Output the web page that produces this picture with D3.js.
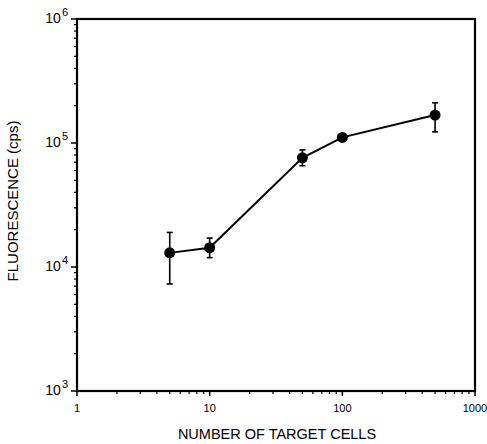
<!DOCTYPE html>
<html>
<head>
<meta charset="utf-8">
<script src="https://cdn.jsdelivr.net/npm/d3@7"></script>
<style>
  body { margin: 0; background: #fff; }
  svg { display: block; font-family: "Liberation Sans", Arial, sans-serif; }
</style>
</head>
<body>
<svg id="chart" width="487" height="444"></svg>
<script>
const cells = [5, 10, 50, 100, 500];
const fluor = [13000, 14300, 76000, 111000, 168000];
const errLow = [7300, 11900, 65600, 111000, 123000];
const errHigh = [19000, 17100, 88000, 111000, 211000];
const xTicks = [1, 10, 100, 1000];
const yExps = [3, 4, 5, 6];

const svg = d3.select("#chart");
const m = { left: 77, top: 19, right: 475, bottom: 391 };

const x = d3.scaleLog().domain([1, 1000]).range([m.left, m.right]);
const y = d3.scaleLog().domain([1000, 1000000]).range([m.bottom, m.top]);

// minor ticks
const minorX = [];
for (let k = 0; k < 3; k++) for (let i = 2; i <= 9; i++) minorX.push(i * Math.pow(10, k));
const minorY = [];
for (let k = 3; k < 6; k++) for (let i = 2; i <= 9; i++) minorY.push(i * Math.pow(10, k));

const axes = svg.append("g").attr("stroke", "#000");

axes.selectAll(".mx")
  .data(minorX)
  .join("line")
  .attr("x1", (d) => x(d)).attr("x2", (d) => x(d))
  .attr("y1", m.bottom).attr("y2", m.bottom + 3)
  .attr("stroke-width", 1.2);

axes.selectAll(".Mx")
  .data(xTicks)
  .join("line")
  .attr("x1", (d) => x(d)).attr("x2", (d) => x(d))
  .attr("y1", m.bottom).attr("y2", m.bottom + 5)
  .attr("stroke-width", 1.5);

axes.selectAll(".my")
  .data(minorY)
  .join("line")
  .attr("x1", m.left - 3).attr("x2", m.left)
  .attr("y1", (d) => y(d)).attr("y2", (d) => y(d))
  .attr("stroke-width", 1.2);

axes.selectAll(".My")
  .data(yExps)
  .join("line")
  .attr("x1", m.left - 6).attr("x2", m.left)
  .attr("y1", (d) => y(Math.pow(10, d))).attr("y2", (d) => y(Math.pow(10, d)))
  .attr("stroke-width", 1.5);

// frame
svg.append("rect")
  .attr("x", m.left).attr("y", m.top)
  .attr("width", m.right - m.left).attr("height", m.bottom - m.top)
  .attr("fill", "none").attr("stroke", "#000").attr("stroke-width", 2.2);

// tick labels
svg.append("g").selectAll("text")
  .data(xTicks)
  .join("text")
  .attr("x", (d) => x(d)).attr("y", m.bottom + 21)
  .attr("text-anchor", "middle")
  .attr("font-size", "11px")
  .text((d) => d);

const yl = svg.append("g").selectAll("text")
  .data(yExps)
  .join("text")
  .attr("x", 68).attr("y", (d) => y(Math.pow(10, d)) + 4)
  .attr("text-anchor", "end")
  .attr("font-size", "14px");
yl.append("tspan").text("10");
yl.append("tspan").attr("dy", -7).attr("font-size", "11px").attr("dx", 1).text((d) => d);

// titles
svg.append("text")
  .attr("x", 277).attr("y", 439)
  .attr("text-anchor", "middle")
  .attr("font-size", "14.5px")
  .text("NUMBER OF TARGET CELLS");

svg.append("text")
  .attr("transform", "translate(18,201) rotate(-90)")
  .attr("text-anchor", "middle")
  .attr("font-size", "15px")
  .text("FLUORESCENCE (cps)");

// data
const pts = cells.map((c, i) => ({ c, v: fluor[i], lo: errLow[i], hi: errHigh[i] }));

svg.append("path")
  .datum(pts)
  .attr("fill", "none")
  .attr("stroke", "#000")
  .attr("stroke-width", 2)
  .attr("d", d3.line().x((d) => x(d.c)).y((d) => y(d.v)));

const eb = svg.append("g").attr("stroke", "#000").attr("stroke-width", 1.6)
  .selectAll("g")
  .data(pts.filter((d) => d.lo !== d.hi))
  .join("g");
eb.append("line")
  .attr("x1", (d) => x(d.c)).attr("x2", (d) => x(d.c))
  .attr("y1", (d) => y(d.lo)).attr("y2", (d) => y(d.hi));
eb.append("line")
  .attr("x1", (d) => x(d.c) - 3).attr("x2", (d) => x(d.c) + 3)
  .attr("y1", (d) => y(d.lo)).attr("y2", (d) => y(d.lo));
eb.append("line")
  .attr("x1", (d) => x(d.c) - 3).attr("x2", (d) => x(d.c) + 3)
  .attr("y1", (d) => y(d.hi)).attr("y2", (d) => y(d.hi));

svg.append("g").selectAll("circle")
  .data(pts)
  .join("circle")
  .attr("cx", (d) => x(d.c)).attr("cy", (d) => y(d.v))
  .attr("r", 5.5)
  .attr("fill", "#000");
</script>
</body>
</html>
